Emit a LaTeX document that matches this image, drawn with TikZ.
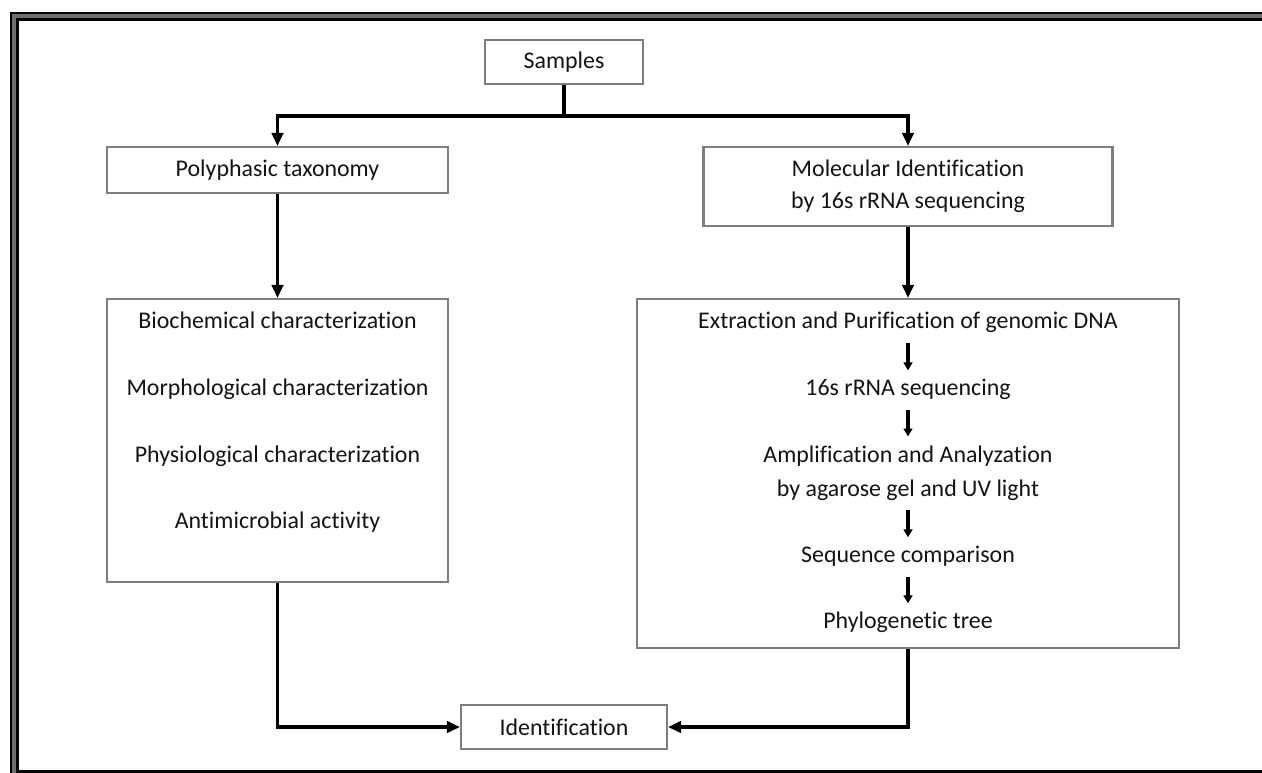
\documentclass[tikz,border=0pt]{standalone}
\usepackage{fontspec}
\setmainfont{Carlito}[Ligatures={NoCommon}]
\usetikzlibrary{arrows.meta}
\definecolor{boxgray}{RGB}{125,125,125}
\definecolor{txtcol}{RGB}{20,20,20}
\definecolor{framegray}{RGB}{110,110,110}
\newcommand\txtfont{\fontsize{13.6}{18.4}\selectfont}
\begin{document}
\begin{tikzpicture}[x=0.02cm,y=-0.02cm,
  box/.style={draw=boxgray, line width=1.2pt, fill=white, inner sep=0pt, align=center, font=\txtfont, text=txtcol},
  txt/.style={inner sep=0pt, align=center, font=\txtfont, text=txtcol, text height=9pt, text depth=3pt},
  mtxt/.style={inner sep=0pt, align=center, font=\txtfont, text=txtcol},
  conn/.style={line width=2.2pt, black},
  arr/.style={conn, -{Triangle[length=7.5pt,width=6.5pt]}},
  sarr/.style={line width=1.8pt, black, -{Triangle[length=4.5pt,width=5pt]}, shorten <=5pt, shorten >=5pt}]
\useasboundingbox (0,0) rectangle (1262,772);
\clip (0,0) rectangle (1262,772);
% frame
\fill[black] (10,12) rectangle (1320,820);
\fill[framegray] (12,14) rectangle (1320,820);
\fill[black] (16,18) rectangle (1320,820);
\fill[white] (19,21) rectangle (1320,770);
% boxes
\node[box, minimum width=3.16cm, minimum height=0.88cm] (samples) at (564,62) {Samples};
\node[box, minimum width=6.82cm, minimum height=0.92cm] (poly) at (277.5,170) {Polyphasic taxonomy};
\node[box, minimum width=8.18cm, minimum height=1.58cm] (mol) at (908,186.5) {Molecular Identification\\by 16s rRNA sequencing};
\node[box, minimum width=6.82cm, minimum height=5.66cm] (lbox) at (277.5,440.5) {};
\node[box, minimum width=10.84cm, minimum height=6.98cm] (rbox) at (908,473.5) {};
\node[box, minimum width=4.12cm, minimum height=0.88cm] (ident) at (564,727) {Identification};
% left texts
\node[txt] (l1) at (277.5,323) {Biochemical characterization};
\node[txt] (l2) at (277.5,390) {Morphological characterization};
\node[txt] (l3) at (277.5,457) {Physiological characterization};
\node[txt] (l4) at (277.5,523) {Antimicrobial activity};
% right texts
\node[txt] (r1) at (908,323) {Extraction and Purification of genomic DNA};
\node[txt] (r2) at (908,390) {16s rRNA sequencing};
\node[mtxt] (r3) at (908,473) {Amplification and Analyzation\\[1pt]by agarose gel and UV light};
\node[txt] (r4) at (908,557) {Sequence comparison};
\node[txt] (r5) at (908,623) {Phylogenetic tree};
\draw[sarr] (r1) -- (r2);
\draw[sarr] (r2) -- (r3);
\draw[sarr] (r3) -- (r4);
\draw[sarr] (r4) -- (r5);
% connectors
\coordinate (j) at (564,116);
\draw[conn] (samples) -- (j);
\draw[arr] (j) -| (poly);
\draw[arr] (j) -| (mol);
\draw[arr] (poly) -- (lbox);
\draw[arr] (mol) -- (rbox);
\draw[arr] (lbox) |- (ident);
\draw[arr] (rbox) |- (ident);
\end{tikzpicture}
\end{document}
